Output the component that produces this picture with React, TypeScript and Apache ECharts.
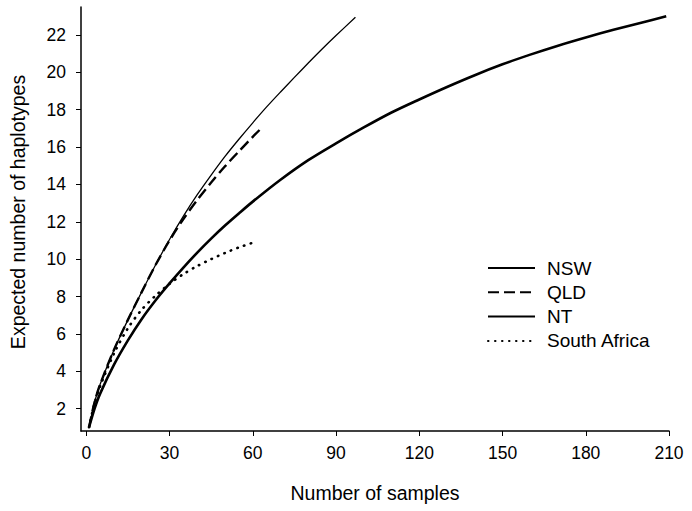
import React, { useEffect, useRef } from "react";
import * as echarts from "echarts";

const seriesNames = ["NSW", "QLD", "NT", "South Africa"];

const nswSamples = [1, 3, 5, 10, 15, 20, 25, 30, 35, 40, 45, 50, 55, 60, 70, 80, 90, 100, 110, 120, 130, 140, 150, 160, 170, 180, 190, 200, 209];
const nswHaplotypes = [1, 2.0, 2.8, 4.35, 5.65, 6.8, 7.8, 8.7, 9.55, 10.35, 11.1, 11.8, 12.45, 13.08, 14.25, 15.3, 16.2, 17.05, 17.85, 18.55, 19.22, 19.85, 20.43, 20.95, 21.43, 21.87, 22.28, 22.66, 23.0];

const qldSamples = [1, 3, 5, 10, 15, 20, 25, 30, 35, 40, 45, 50, 55, 60, 63];
const qldHaplotypes = [1, 2.35, 3.3, 5.15, 6.75, 8.25, 9.7, 11.0, 12.15, 13.17, 14.1, 14.97, 15.77, 16.55, 17.0];

const ntSamples = [1, 3, 5, 10, 15, 20, 25, 30, 35, 40, 45, 50, 55, 60, 65, 70, 75, 80, 85, 90, 97];
const ntHaplotypes = [1, 2.35, 3.3, 5.15, 6.75, 8.25, 9.7, 11.05, 12.3, 13.45, 14.5, 15.5, 16.42, 17.3, 18.15, 18.95, 19.73, 20.5, 21.25, 21.97, 22.95];

const saSamples = [1, 3, 5, 10, 15, 20, 25, 30, 35, 40, 45, 50, 55, 61];
const saHaplotypes = [1, 2.3, 3.2, 4.95, 6.3, 7.3, 8.05, 8.68, 9.2, 9.63, 10.0, 10.33, 10.63, 10.93];

const xTicks = [0, 30, 60, 90, 120, 150, 180, 210];
const yTicks = [2, 4, 6, 8, 10, 12, 14, 16, 18, 20, 22];

const xName = "Number of samples";
const yName = "Expected number of haplotypes";

const pairs = (xs: number[], ys: number[]) => xs.map((x, i) => [x, ys[i]]);

const FONT = "'Liberation Sans', Arial, sans-serif";

export default function App() {
  const ref = useRef<HTMLDivElement>(null);
  useEffect(() => {
    if (!ref.current) return;
    const chart = echarts.init(ref.current, undefined, { renderer: "svg" });
    const base = {
      type: "line",
      showSymbol: false,
      symbol: "none",
      smooth: 0.3,
      animation: false,
    };
    chart.setOption({
      animation: false,
      backgroundColor: "#ffffff",
      grid: { left: 81, right: 23, top: 7, bottom: 80 },
      legend: {
        orient: "vertical",
        left: 487,
        top: 258,
        padding: 0,
        itemWidth: 47,
        itemHeight: 14,
        itemGap: 4.3,
        data: seriesNames,
        itemStyle: { color: "transparent", borderColor: "transparent", borderWidth: 0, opacity: 0 },
        textStyle: {
          fontFamily: FONT,
          fontSize: 19,
          color: "#000",
          lineHeight: 20,
          padding: [0, 0, 0, 7],
        },
      },
      xAxis: {
        type: "value",
        min: -1.9,
        max: 210,
        name: xName,
        nameLocation: "middle",
        nameGap: 52,
        nameTextStyle: { fontFamily: FONT, fontSize: 19.5, color: "#000" },
        splitLine: { show: false },
        axisLine: { onZero: false, lineStyle: { color: "#000", width: 1.5 } },
        axisTick: { customValues: xTicks, length: 5, lineStyle: { color: "#000", width: 1 } },
        axisLabel: { customValues: xTicks, margin: 13, fontFamily: FONT, fontSize: 17.5, color: "#000" },
      },
      yAxis: {
        type: "value",
        min: 0.8,
        max: 23.5,
        name: yName,
        nameLocation: "middle",
        nameGap: 53,
        nameTextStyle: { fontFamily: FONT, fontSize: 19.5, color: "#000", padding: [0, 0, 0, 14] },
        splitLine: { show: false },
        axisLine: { onZero: false, lineStyle: { color: "#000", width: 1.5 } },
        axisTick: { customValues: yTicks, length: 5, lineStyle: { color: "#000", width: 1 } },
        axisLabel: { customValues: yTicks, margin: 15, fontFamily: FONT, fontSize: 17.5, color: "#000" },
      },
      series: [
        {
          ...base,
          name: seriesNames[0],
          data: pairs(nswSamples, nswHaplotypes),
          lineStyle: { color: "#000", width: 2.6, type: "solid" },
          itemStyle: { color: "#000" },
          z: 4,
        },
        {
          ...base,
          name: seriesNames[1],
          data: pairs(qldSamples, qldHaplotypes),
          lineStyle: { color: "#000", width: 2.4, type: [11, 5] },
          itemStyle: { color: "#000" },
          z: 3,
        },
        {
          ...base,
          name: seriesNames[2],
          data: pairs(ntSamples, ntHaplotypes),
          lineStyle: { color: "#000", width: 1.3, type: "solid" },
          itemStyle: { color: "#000" },
          z: 2,
        },
        {
          ...base,
          name: seriesNames[3],
          data: pairs(saSamples, saHaplotypes),
          lineStyle: { color: "#000", width: 2.6, type: [0.5, 6.5], cap: "round" },
          itemStyle: { color: "#000" },
          z: 1,
        },
      ],
    });
    return () => chart.dispose();
  }, []);
  return (
    <div
      ref={ref}
      style={{ position: "absolute", left: 0, top: 0, width: 692, height: 511 }}
    />
  );
}
